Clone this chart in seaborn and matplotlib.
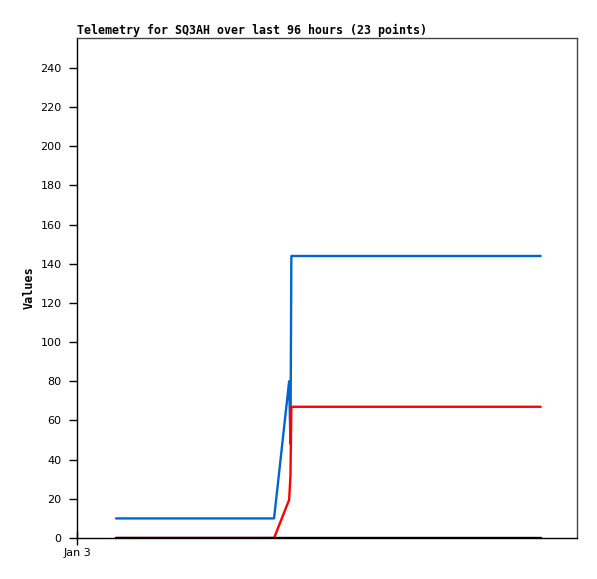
import matplotlib
matplotlib.use("Agg")
import matplotlib.pyplot as plt
import pandas as pd
import seaborn as sns

# hours since Jan 3 00:00
hours = [8.8, 13, 17, 21, 25, 29, 33, 37, 41, 44.5,
         47.9, 48.2, 48.4, 48.5,
         53, 60, 67, 74, 81, 88, 95, 100, 104.7]
series_blue = [10] * 10 + [80, 48, 144, 144] + [144] * 9
series_red = [0] * 10 + [19.5, 32, 67, 67] + [67] * 9
series_black = [0] * 23

df = pd.concat([
    pd.DataFrame({"hours": hours, "value": series_blue, "series": "blue"}),
    pd.DataFrame({"hours": hours, "value": series_red, "series": "red"}),
    pd.DataFrame({"hours": hours, "value": series_black, "series": "black"}),
])

sns.set_style("white")
plt.rcParams["font.family"] = ["DejaVu Sans"]
plt.rcParams["text.color"] = "black"
plt.rcParams["axes.labelcolor"] = "black"
plt.rcParams["xtick.color"] = "black"
plt.rcParams["ytick.color"] = "black"

fig = plt.figure(figsize=(5.97, 5.79), dpi=100)
ax = fig.add_axes([77 / 597, 41 / 579, 500 / 597, 500 / 579])

sns.lineplot(
    data=df, x="hours", y="value", hue="series",
    palette={"blue": "#0066cc", "red": "#ff0000", "black": "#000000"},
    linewidth=1.7, legend=False, ax=ax, estimator=None, sort=False,
)

ax.set_xlim(0, 112.9)
ax.set_ylim(0, 255.3)
ax.set_yticks(range(0, 241, 20))
ax.set_xticks([0])
ax.set_xticklabels(["Jan 3"])
ax.tick_params(axis="y", left=True, direction="out", length=6, width=1,
               labelsize=8, pad=5)
ax.tick_params(axis="x", bottom=True, direction="inout", length=10, width=1,
               labelsize=8, pad=2)
ax.grid(False)

for side in ["left", "bottom"]:
    ax.spines[side].set_color("black")
    ax.spines[side].set_linewidth(1)
for side in ["top", "right"]:
    ax.spines[side].set_color("#444444")
    ax.spines[side].set_linewidth(1)

ax.set_xlabel("")
ax.set_ylabel("Values", fontsize=8.5, fontweight="bold",
              family="DejaVu Sans Mono")
ax.yaxis.set_label_coords(-0.082, 0.5)
ax.set_title("Telemetry for SQ3AH over last 96 hours (23 points)",
             fontsize=8.4, fontweight="bold", loc="left", pad=3,
             family="DejaVu Sans Mono")

plt.savefig("out.png", dpi=100)
